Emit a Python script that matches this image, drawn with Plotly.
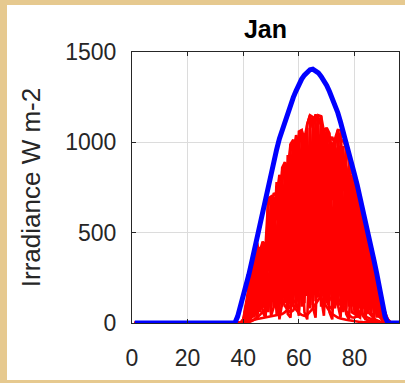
import plotly.graph_objects as go

# ---- data ----
n_steps = 96
x_vals = list(range(1, n_steps + 1))

# clear-sky irradiance (blue), values for x = 37..92, zero otherwise
clear_start = 37
clear_vals = [0, 37, 90, 144, 197, 267, 335, 407, 485, 554, 622, 690, 758, 825, 892, 960,
              1020, 1069, 1118, 1167, 1213, 1249, 1285, 1321, 1350, 1372, 1390, 1402, 1405,
              1398, 1385, 1365, 1342, 1315, 1281, 1247, 1213, 1164, 1111, 1058, 1005, 945,
              884, 823, 762, 697, 629, 561, 493, 420, 347, 274, 200, 115, 35, 0]

# measured daily irradiance (red), values for x = 40..93, zero otherwise
day_start = 40
days = [
    [20, 100, 200, 290, 380, 430, 400, 450, 420, 690, 650, 720, 700, 820, 780, 890, 850, 990, 940, 1040,
     980, 1068, 1020, 1100, 1150, 1080, 1155, 1100, 1145, 1060, 1080, 1000, 1030, 980, 1068, 1000, 1013,
     960, 900, 840, 780, 720, 670, 610, 540, 470, 400, 330, 250, 170, 100, 60, 20, 0],
    [20, 50, 200, 150, 400, 200, 420, 210, 430, 320, 680, 330, 760, 380, 840, 400, 930, 450, 990, 470,
     1040, 480, 1050, 500, 1120, 510, 1130, 520, 1120, 500, 1050, 480, 1000, 460, 1040, 480, 980, 430,
     870, 380, 750, 330, 640, 280, 520, 220, 380, 150, 230, 80, 90, 30, 10, 0],
    [10, 100, 70, 320, 130, 440, 140, 440, 150, 670, 220, 700, 240, 800, 260, 870, 290, 970, 310, 1020,
     330, 1050, 330, 1080, 350, 1120, 350, 1130, 350, 1080, 330, 1030, 310, 1000, 320, 1050, 300, 940,
     280, 820, 240, 700, 200, 590, 170, 450, 130, 310, 80, 160, 30, 50, 5, 0],
    [15, 60, 190, 280, 90, 380, 260, 90, 380, 410, 140, 610, 470, 160, 730, 530, 190, 840, 610, 210,
     900, 640, 210, 940, 690, 230, 980, 690, 230, 940, 650, 210, 880, 610, 210, 900, 610, 190, 770, 500,
     160, 610, 400, 120, 460, 280, 80, 280, 150, 30, 80, 20, 0, 0],
    [5, 90, 40, 100, 370, 90, 300, 400, 100, 420, 600, 150, 470, 700, 180, 540, 820, 200, 610, 890,
     220, 640, 920, 230, 690, 970, 240, 690, 980, 220, 650, 900, 210, 610, 920, 210, 610, 820, 180, 500,
     660, 140, 400, 520, 100, 280, 340, 50, 150, 140, 20, 30, 0, 0],
    [0, 30, 120, 60, 250, 445, 180, 450, 260, 690, 700, 500, 780, 600, 860, 890, 620, 990, 1015, 700,
     1060, 1068, 800, 1100, 1150, 1140, 850, 1150, 1145, 900, 1080, 1050, 820, 1020, 1068, 1065, 760,
     960, 900, 640, 780, 720, 520, 610, 540, 380, 400, 330, 200, 170, 100, 40, 20, 5],
    [0, 20, 60, 200, 50, 300, 100, 350, 120, 520, 130, 560, 150, 600, 170, 640, 200, 700, 220, 760,
     240, 780, 260, 800, 250, 820, 260, 830, 250, 800, 240, 760, 220, 740, 230, 720, 200, 680, 190, 620,
     170, 560, 150, 500, 120, 400, 90, 300, 60, 150, 40, 20, 0, 0],
    [0, 0, 5, 10, 20, 30, 45, 60, 80, 100, 120, 140, 160, 180, 200, 215, 230, 240, 250, 255,
     258, 255, 250, 240, 225, 205, 185, 160, 135, 110, 85, 65, 50, 40, 30, 25, 20, 18, 15, 12,
     10, 8, 6, 5, 4, 3, 2, 1, 0, 0, 0, 0, 0, 0],
    [0, 5, 10, 15, 20, 22, 25, 28, 30, 32, 35, 38, 40, 45, 50, 60, 75, 90, 110, 130,
     150, 170, 190, 210, 230, 245, 260, 270, 278, 282, 280, 275, 265, 250, 230, 205, 180, 155, 130, 105,
     85, 70, 55, 45, 35, 28, 20, 14, 8, 4, 2, 0, 0, 0],
    [0, 10, 20, 35, 50, 65, 80, 95, 110, 125, 135, 145, 150, 152, 150, 145, 130, 110, 90, 70,
     55, 45, 40, 45, 60, 80, 105, 130, 150, 168, 178, 180, 175, 160, 140, 115, 90, 65, 45, 32,
     30, 40, 60, 85, 105, 118, 115, 95, 65, 35, 15, 5, 0, 0],
    [5, 40, 90, 140, 190, 240, 280, 300, 320, 330, 320, 280, 230, 180, 130, 95, 70, 60, 70, 110,
     160, 220, 280, 320, 345, 350, 335, 290, 230, 170, 120, 90, 80, 95, 140, 200, 260, 300, 310, 290,
     250, 200, 150, 110, 80, 60, 40, 25, 15, 8, 3, 0, 0, 0],
    [0, 15, 30, 45, 60, 70, 80, 90, 100, 110, 120, 420, 130, 140, 150, 160, 500, 170, 175, 180,
     185, 190, 560, 190, 185, 180, 175, 170, 600, 160, 150, 140, 130, 540, 110, 100, 90, 80, 380, 60,
     50, 40, 30, 260, 20, 15, 10, 5, 3, 0, 0, 0, 0, 0],
    [0, 50, 150, 250, 300, 350, 380, 400, 350, 500, 400, 600, 450, 650, 500, 700, 560, 760, 600, 800,
     620, 850, 660, 900, 700, 950, 720, 980, 740, 960, 720, 920, 680, 880, 640, 850, 560, 800, 480, 720,
     400, 640, 320, 560, 250, 440, 180, 300, 110, 150, 50, 30, 0, 0],
    [0, 0, 10, 30, 60, 100, 150, 200, 250, 300, 350, 400, 450, 500, 550, 600, 650, 700, 750, 800,
     850, 880, 920, 950, 980, 1000, 1020, 1030, 1040, 1040, 1030, 1010, 990, 970, 940, 920, 900, 860,
     820, 780, 740, 690, 640, 580, 520, 450, 380, 310, 240, 170, 100, 50, 15, 0],
    [0, 30, 110, 60, 180, 90, 250, 120, 300, 60, 380, 90, 420, 70, 470, 110, 520, 80, 560, 130,
     600, 90, 640, 150, 660, 100, 700, 140, 680, 90, 660, 120, 620, 80, 600, 110, 560, 70, 520, 100,
     470, 60, 420, 90, 360, 50, 300, 70, 200, 40, 110, 20, 10, 0],
    [0, 10, 40, 110, 30, 160, 60, 220, 40, 280, 70, 330, 50, 380, 90, 420, 60, 460, 100, 500,
     70, 520, 110, 540, 80, 560, 120, 560, 90, 540, 110, 520, 70, 500, 100, 480, 60, 450, 90, 420,
     50, 380, 80, 340, 40, 290, 60, 220, 30, 160, 20, 60, 0, 0],
    [0, 20, 80, 40, 150, 20, 190, 60, 30, 250, 40, 90, 300, 20, 110, 340, 50, 30, 380, 120,
     40, 420, 60, 20, 450, 90, 30, 430, 140, 40, 400, 60, 20, 380, 100, 30, 350, 50, 20, 320,
     90, 30, 280, 40, 20, 240, 60, 20, 180, 30, 90, 10, 0, 0],
]

x_ticks = [0, 20, 40, 60, 80]
y_ticks = [0, 500, 1000, 1500]
title_text = "Jan"
y_label = "Irradiance W m-2"


def pad(start, vals):
    before = [0] * (start - 1)
    after = [0] * (n_steps - len(before) - len(vals))
    return before + vals + after


fig = go.Figure()
for d in days:
    fig.add_trace(go.Scatter(x=x_vals, y=pad(day_start, d), mode="lines",
                             line=dict(color="#ff0000", width=2.6), showlegend=False,
                             hoverinfo="skip"))
fig.add_trace(go.Scatter(x=x_vals, y=pad(clear_start, clear_vals), mode="lines",
                         line=dict(color="#0000ff", width=5), showlegend=False))

axis_common = dict(showline=True, linecolor="#262626", linewidth=1, mirror="ticks",
                   ticks="inside", ticklen=4, tickcolor="#262626", showgrid=True,
                   gridcolor="#dcdcdc", gridwidth=1, zeroline=False, automargin=False,
                   tickfont=dict(family="Liberation Sans", size=23, color="#262626"))

fig.update_layout(
    width=405, height=383,
    margin=dict(l=132, r=6, t=52, b=60),
    paper_bgcolor="#e6c98f",
    plot_bgcolor="white",
    title=dict(text="<b>" + title_text + "</b>", x=0.5, xref="paper", xanchor="center",
               y=1 - 29 / 383, yref="container", yanchor="middle",
               font=dict(family="Liberation Sans", size=25, color="#000000")),
    xaxis=dict(range=[0, 96], tickvals=x_ticks, ticklabelstandoff=14, **axis_common),
    yaxis=dict(range=[0, 1500], tickvals=y_ticks, ticklabelstandoff=10,
               title=dict(text=y_label, standoff=17,
                          font=dict(family="Liberation Sans", size=26, color="#262626")),
               **axis_common),
    shapes=[dict(type="rect", xref="paper", yref="paper", layer="below",
                 x0=(7 - 132) / 267, x1=1.05, y0=(323 - 380) / 271, y1=(323 - 5) / 271,
                 fillcolor="white", line=dict(width=0))],
)

fig.write_html("out.html", config={"displayModeBar": False},
               post_script="document.body.style.margin='0';"
                           "document.body.style.overflow='hidden';"
                           "document.body.style.background='#e6c98f';")
